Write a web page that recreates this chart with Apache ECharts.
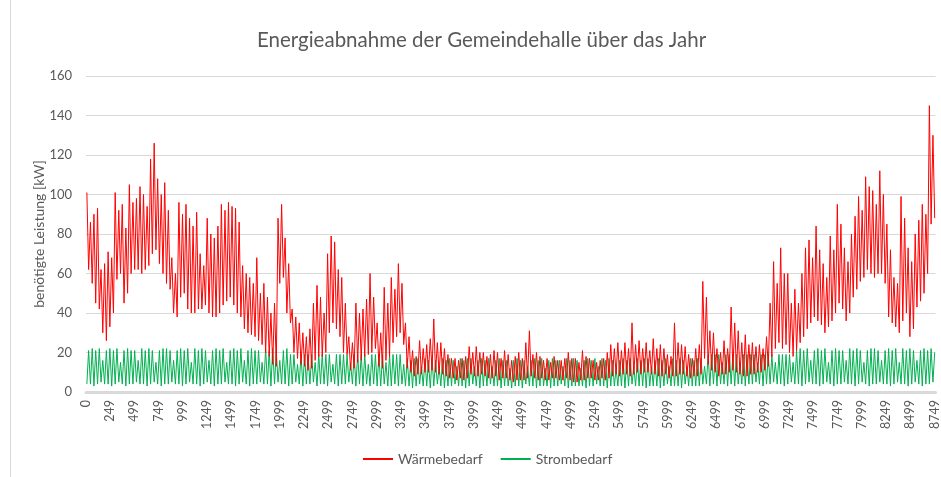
<!DOCTYPE html>
<html>
<head>
<meta charset="utf-8">
<script src="https://cdn.jsdelivr.net/npm/echarts@6/dist/echarts.min.js"></script>
<style>
  html, body { margin: 0; padding: 0; background: #fff; }
  #grafik { width: 941px; height: 477px; }
</style>
</head>
<body>
<div id="grafik"></div>
<script>
var abschnitt = 36.5;

var waermeHoch = [
  101, 86, 90, 93, 62, 65, 71, 68, 101, 92, 95, 83, 105, 96, 98, 104, 100, 94, 118, 126,
  108, 100, 106, 92, 68, 60, 96, 90, 95, 88, 84, 91, 70, 64, 88, 80, 78, 84, 95, 92,
  96, 94, 93, 86, 64, 60, 58, 55, 68, 50, 55, 48, 40, 45, 88, 95, 78, 65, 42, 38,
  35, 30, 28, 32, 45, 54, 48, 40, 70, 79, 76, 62, 58, 45, 28, 25, 45, 40, 42, 47,
  60, 48, 35, 30, 53, 45, 58, 52, 65, 55, 35, 28, 21, 18, 26, 22, 24, 27, 37, 25,
  25, 22, 19, 17, 17, 16, 17, 18, 23, 20, 23, 20, 20, 18, 19, 21, 20, 17, 21, 19,
  16, 18, 20, 17, 25, 31, 19, 20, 18, 16, 17, 15, 18, 16, 16, 17, 20, 17, 17, 15,
  21, 18, 17, 16, 15, 16, 17, 20, 24, 22, 25, 21, 25, 22, 35, 24, 26, 22, 25, 21,
  27, 22, 24, 22, 19, 18, 35, 25, 24, 23, 19, 17, 22, 24, 56, 48, 31, 30, 22, 20,
  26, 22, 43, 35, 31, 25, 29, 24, 25, 23, 24, 22, 28, 45, 66, 55, 73, 60, 60, 45,
  52, 45, 60, 73, 77, 68, 84, 72, 65, 58, 79, 72, 95, 85, 73, 66, 80, 89, 99, 92,
  109, 104, 102, 95, 112, 100, 85, 72, 58, 55, 99, 88, 73, 66, 80, 87, 95, 90, 145, 130
];
var waermeTief = [
  62, 55, 45, 42, 30, 26, 33, 40, 57, 60, 45, 50, 60, 62, 62, 60, 62, 64, 70, 72,
  65, 60, 55, 52, 40, 38, 48, 50, 42, 40, 40, 42, 42, 44, 40, 38, 38, 40, 44, 46,
  48, 44, 40, 38, 32, 30, 29, 28, 26, 24, 20, 18, 14, 13, 55, 58, 40, 35, 20, 17,
  14, 13, 11, 12, 16, 18, 18, 20, 30, 35, 32, 28, 20, 19, 11, 12, 15, 16, 18, 19,
  20, 22, 13, 12, 16, 18, 25, 28, 30, 24, 12, 10, 8, 9, 9, 10, 10, 11, 10, 9,
  9, 8, 7, 7, 6, 7, 6, 7, 9, 8, 8, 9, 8, 7, 7, 8, 6, 7, 7, 6,
  5, 6, 6, 6, 7, 8, 7, 6, 7, 6, 6, 7, 7, 6, 6, 7, 6, 5, 5, 6,
  6, 7, 7, 6, 6, 7, 6, 7, 8, 9, 8, 9, 9, 8, 9, 10, 9, 10, 10, 9,
  9, 8, 8, 9, 7, 8, 8, 9, 9, 8, 7, 8, 8, 9, 17, 14, 11, 10, 8, 9,
  9, 10, 11, 10, 9, 8, 8, 9, 9, 10, 10, 11, 13, 18, 22, 25, 22, 24, 20, 18,
  21, 25, 28, 32, 35, 38, 36, 34, 30, 33, 36, 40, 45, 42, 36, 40, 48, 52, 56, 58,
  62, 60, 58, 60, 60, 55, 38, 35, 33, 30, 36, 40, 28, 32, 43, 46, 50, 60, 85, 88
];
var stromHoch = [
  21, 22, 21, 22, 16, 21, 22, 21, 22, 15, 21, 22, 21, 21, 16, 22, 21, 22, 21, 15,
  21, 22, 22, 21, 16, 21, 22, 21, 22, 15, 22, 21, 22, 21, 16, 21, 22, 21, 22, 15,
  21, 22, 21, 22, 16, 21, 22, 21, 21, 15, 22, 21, 22, 21, 16, 21, 22, 19, 19, 14,
  19, 19, 19, 19, 15, 19, 19, 19, 19, 14, 19, 19, 19, 19, 15, 19, 19, 19, 19, 14,
  19, 19, 19, 19, 15, 19, 19, 19, 19, 14, 17, 16, 17, 17, 13, 17, 16, 17, 16, 13,
  17, 16, 17, 16, 13, 17, 16, 17, 17, 13, 16, 17, 16, 17, 13, 16, 17, 16, 16, 12,
  16, 17, 16, 16, 13, 16, 17, 16, 17, 12, 16, 17, 16, 16, 13, 17, 16, 17, 16, 12,
  16, 17, 16, 17, 13, 17, 16, 17, 16, 12, 16, 17, 16, 17, 13, 17, 16, 17, 17, 13,
  16, 17, 16, 17, 13, 17, 16, 17, 16, 13, 17, 16, 17, 17, 13, 19, 19, 19, 19, 15,
  19, 19, 19, 19, 15, 19, 19, 19, 19, 15, 19, 19, 19, 19, 15, 19, 19, 19, 19, 15,
  21, 22, 21, 22, 16, 21, 22, 21, 22, 15, 21, 22, 21, 21, 16, 22, 21, 22, 21, 15,
  21, 22, 22, 21, 16, 21, 22, 21, 22, 15, 22, 21, 22, 21, 16, 21, 22, 21, 22, 20
];
var stromTief = [
  4, 4, 3, 4, 5, 4, 4, 3, 4, 5, 4, 3, 4, 4, 5, 4, 4, 3, 4, 5,
  4, 3, 4, 4, 5, 4, 4, 3, 4, 5, 4, 4, 3, 4, 5, 4, 3, 4, 4, 5,
  4, 4, 3, 4, 5, 4, 3, 4, 4, 5, 4, 4, 3, 4, 5, 4, 4, 3, 4, 5,
  4, 3, 4, 4, 5, 3, 4, 4, 3, 5, 4, 3, 4, 4, 5, 4, 3, 4, 3, 4,
  3, 4, 3, 3, 4, 3, 3, 4, 3, 4, 3, 3, 2, 3, 4, 3, 3, 2, 3, 4,
  3, 2, 3, 3, 4, 3, 3, 2, 3, 4, 3, 2, 3, 3, 4, 3, 3, 2, 3, 3,
  2, 3, 3, 2, 4, 3, 3, 2, 3, 3, 3, 2, 3, 3, 4, 3, 2, 3, 3, 3,
  3, 2, 3, 3, 4, 3, 3, 2, 3, 3, 3, 3, 2, 3, 4, 3, 3, 3, 2, 3,
  3, 3, 2, 3, 4, 3, 3, 3, 2, 4, 3, 3, 3, 3, 4, 4, 3, 4, 3, 4,
  4, 3, 4, 3, 4, 4, 3, 4, 4, 5, 4, 3, 4, 4, 5, 4, 4, 3, 4, 5,
  4, 4, 3, 4, 5, 4, 4, 3, 4, 5, 4, 3, 4, 4, 5, 4, 4, 3, 4, 5,
  4, 3, 4, 4, 5, 4, 4, 3, 4, 5, 4, 4, 3, 4, 5, 4, 3, 4, 4, 5
];
var yTicks = [0, 20, 40, 60, 80, 100, 120, 140, 160];

var stunden = [];
for (var h = 0; h < 8760; h++) {
  stunden.push(String(h));
}

// Hoch und Tief je Abschnitt als Punkte auf der Stundenachse
function zickzack(hoch, tief, hochZuerst) {
  var punkte = [];
  for (var i = 0; i < hoch.length; i++) {
    var start = i * abschnitt;
    var a = Math.round(start + 9);
    var b = Math.round(start + 27);
    if (hochZuerst) {
      punkte.push([a, hoch[i]]);
      punkte.push([b, tief[i]]);
    } else {
      punkte.push([a, tief[i]]);
      punkte.push([b, hoch[i]]);
    }
  }
  return punkte;
}

var schrift = 'Lato';
var grau = '#595959';

var dom = document.getElementById('grafik');
var myChart = echarts.init(dom, null, { renderer: 'canvas' });

var option = {
  animation: false,
  textStyle: { fontFamily: schrift },
  title: {
    text: 'Energieabnahme der Gemeindehalle über das Jahr',
    left: 252,
    top: 25,
    textStyle: { fontFamily: schrift, fontSize: 20.5, fontWeight: 'normal', color: grau }
  },
  grid: { left: 86, right: 3, top: 76, bottom: 85 },
  legend: {
    top: 452,
    left: 363,
    padding: 0,
    icon: 'rect',
    itemWidth: 30,
    itemHeight: 2,
    itemGap: 18,
    textStyle: { fontFamily: schrift, fontSize: 14, color: grau, width: 82 },
    data: ['Wärmebedarf', 'Strombedarf']
  },
  xAxis: {
    type: 'category',
    data: stunden,
    boundaryGap: false,
    axisLine: { lineStyle: { color: '#d9d9d9', width: 3 } },
    axisTick: { show: false },
    axisLabel: {
      rotate: 90,
      fontSize: 12.5,
      color: grau,
      margin: 8,
      interval: function (index) {
        return index === 0 || (index + 1) % 250 === 0;
      }
    },
    splitLine: { show: false }
  },
  yAxis: {
    type: 'value',
    min: yTicks[0],
    max: yTicks[yTicks.length - 1],
    interval: 20,
    name: 'benötigte Leistung [kW]',
    nameLocation: 'middle',
    nameGap: 40,
    nameMoveOverlap: false,
    nameTextStyle: { fontFamily: schrift, fontSize: 14, color: grau },
    axisLine: { show: false },
    axisTick: { show: false },
    axisLabel: { fontSize: 13, color: grau, margin: 14 },
    splitLine: { lineStyle: { color: '#d9d9d9', width: 1 } }
  },
  series: [
    {
      name: 'Strombedarf',
      type: 'line',
      data: zickzack(stromHoch, stromTief, false),
      showSymbol: false,
      symbol: 'none',
      lineStyle: { color: '#00b050', width: 1 },
      itemStyle: { color: '#00b050' }
    },
    {
      name: 'Wärmebedarf',
      type: 'line',
      data: zickzack(waermeHoch, waermeTief, true),
      showSymbol: false,
      symbol: 'none',
      lineStyle: { color: '#ff0000', width: 1 },
      itemStyle: { color: '#ff0000' }
    }
  ],
  graphic: [
    {
      type: 'line',
      shape: { x1: 10.5, y1: 0, x2: 10.5, y2: 477 },
      style: { stroke: '#d9d9d9', lineWidth: 1 }
    }
  ]
};

if (option && typeof option === 'object') {
  myChart.setOption(option);
}

window.addEventListener('resize', myChart.resize);
</script>
</body>
</html>
